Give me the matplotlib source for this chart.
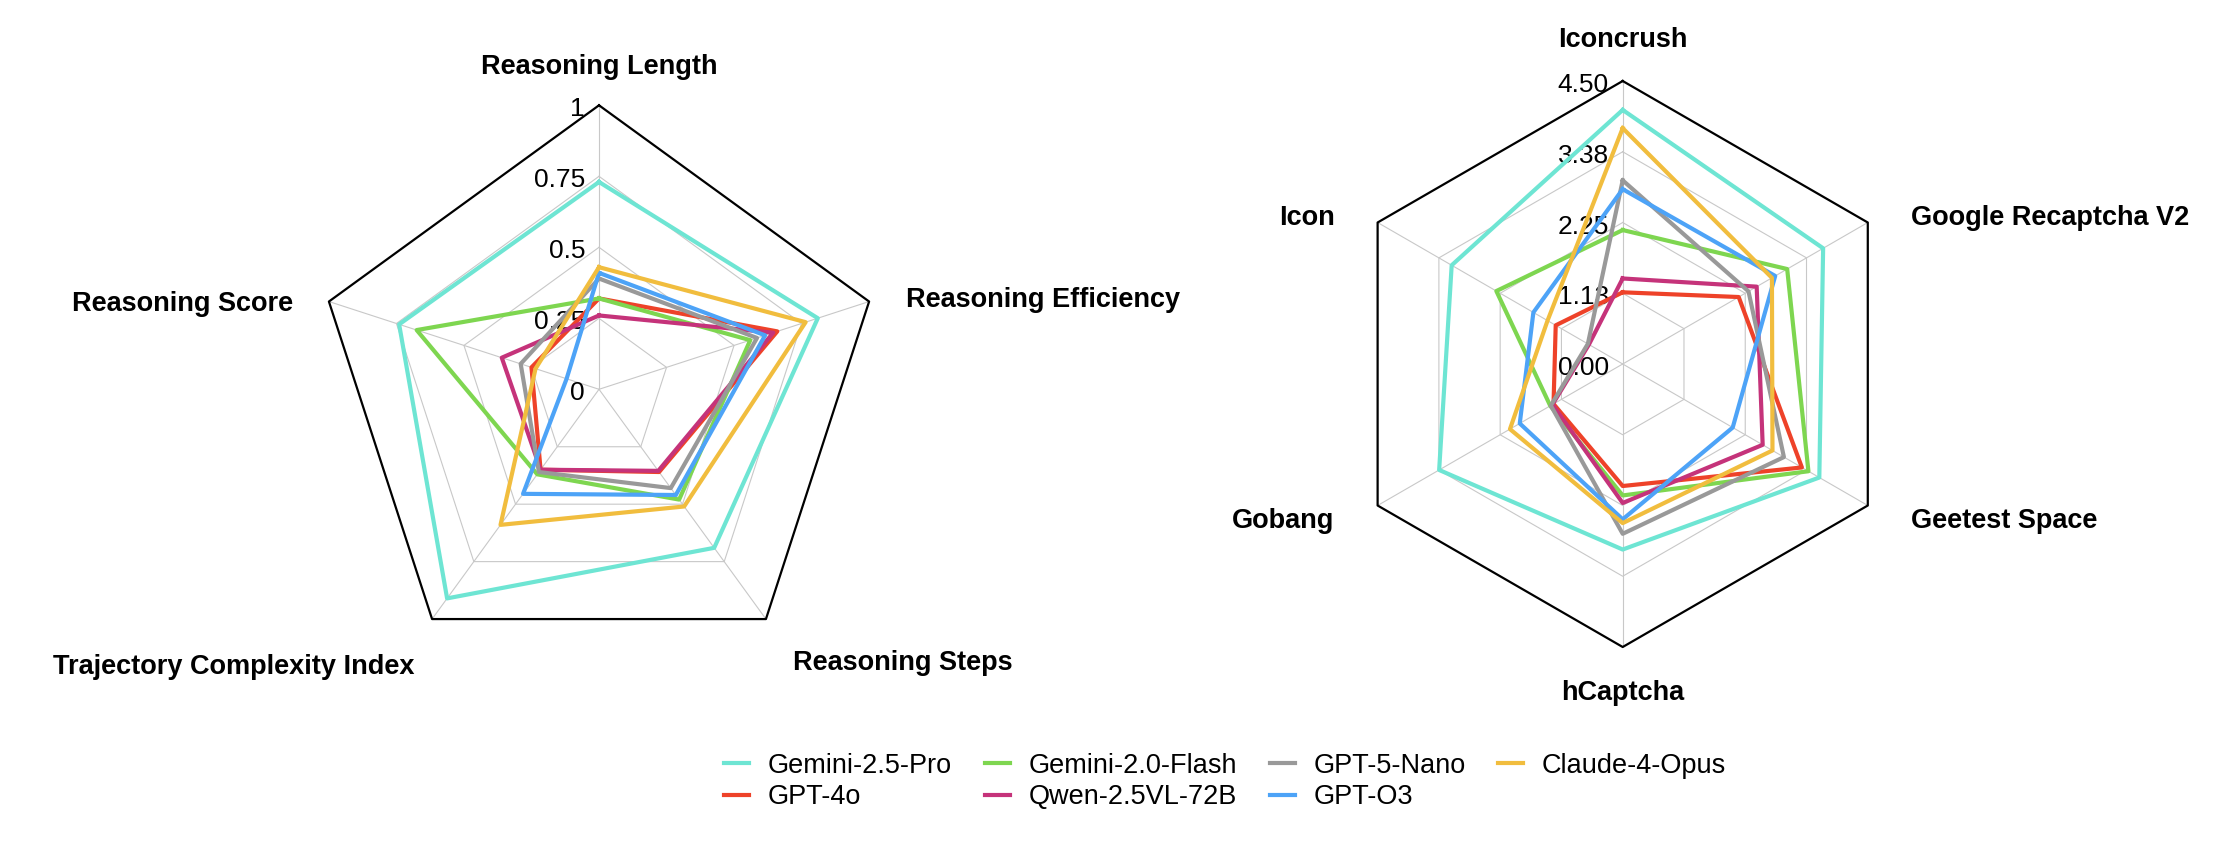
import numpy as np
import matplotlib
matplotlib.use('Agg')
import matplotlib.pyplot as plt

plt.rcParams['font.family'] = ['Liberation Sans', 'DejaVu Sans']

#modelos y colores
modelos = ['Gemini-2.5-Pro', 'GPT-4o', 'Gemini-2.0-Flash', 'Qwen-2.5VL-72B',
           'GPT-5-Nano', 'GPT-O3', 'Claude-4-Opus']
colores = ['#6EE5D3', '#EE4229', '#7ED650', '#C5337A',
           '#999999', '#4DA3F7', '#F1BD3E']

#radar izquierdo (metricas de razonamiento)
ejes_izq = ['Reasoning Length', 'Reasoning Efficiency', 'Reasoning Steps',
            'Trajectory Complexity Index', 'Reasoning Score']
gemini25_izq = [0.73, 0.81, 0.69, 0.91, 0.74]
gpt4o_izq = [0.32, 0.66, 0.36, 0.35, 0.25]
gemini20_izq = [0.32, 0.56, 0.48, 0.37, 0.675]
qwen_izq = [0.26, 0.645, 0.355, 0.35, 0.36]
gpt5nano_izq = [0.39, 0.585, 0.43, 0.36, 0.29]
gpto3_izq = [0.41, 0.615, 0.46, 0.455, 0.12]
claude_izq = [0.43, 0.765, 0.51, 0.59, 0.235]
ticks_izq = [0, 0.25, 0.5, 0.75, 1]
etiq_izq = ['0', '0.25', '0.5', '0.75', '1']

#radar derecho (captchas)
ejes_der = ['Iconcrush', 'Google Recaptcha V2', 'Geetest Space', 'hCaptcha',
            'Gobang', 'Icon']
gemini25_der = [4.04, 3.68, 3.61, 2.95, 3.37, 3.14]
gpt4o_der = [1.14, 2.13, 3.29, 1.94, 1.27, 1.23]
gemini20_der = [2.13, 3.02, 3.41, 2.09, 1.33, 2.32]
qwen_der = [1.36, 2.46, 2.57, 2.21, 1.29, 0.62]
gpt5nano_der = [2.92, 2.31, 2.96, 2.70, 1.32, 0.64]
gpto3_der = [2.78, 2.80, 2.02, 2.47, 1.89, 1.64]
claude_der = [3.75, 2.74, 2.75, 2.53, 2.07, 1.38]
ticks_der = [0, 1.125, 2.25, 3.375, 4.5]
etiq_der = ['0.00', '1.13', '2.25', '3.38', '4.50']

datos_izq = [gemini25_izq, gpt4o_izq, gemini20_izq, qwen_izq,
             gpt5nano_izq, gpto3_izq, claude_izq]
datos_der = [gemini25_der, gpt4o_der, gemini20_der, qwen_der,
             gpt5nano_der, gpto3_der, claude_der]

#desplazamientos de las etiquetas de los ejes (pixeles) y alineacion
pos_izq = [((0, 38), 'center', 'center'), ((37, 2), 'left', 'center'),
           ((27, -44), 'left', 'center'), ((-18, -48), 'right', 'center'),
           ((-36, -2), 'right', 'center')]
pos_der = [((0, 41), 'center', 'center'), ((43, 5), 'left', 'center'),
           ((43, -15), 'left', 'center'), ((0, -46), 'center', 'center'),
           ((-43, -15), 'right', 'center'), ((-43, 5), 'right', 'center')]


def radar(ax, ejes, datos, ticks, etiquetas, posiciones):
    n = len(ejes)
    ang = np.arange(n) * 2 * np.pi / n
    ang_c = np.append(ang, ang[0])
    rmax = ticks[-1]
    ax.set_theta_zero_location('N')
    ax.set_theta_direction(-1)
    ax.set_ylim(0, rmax)
    ax.set_xticks([])
    ax.set_yticks([])
    ax.grid(False)
    ax.spines['polar'].set_visible(False)
    #rejilla poligonal
    for t in ticks[1:-1]:
        ax.plot(ang_c, [t] * (n + 1), color='#c8c8c8', lw=0.8, zorder=1)
    for a in ang:
        ax.plot([a, a], [0, rmax], color='#c8c8c8', lw=0.8, zorder=1)
    ax.plot(ang_c, [rmax] * (n + 1), color='black', lw=1.6, zorder=1,
            clip_on=False)
    #etiquetas radiales (debajo de las series)
    for t, e in zip(ticks, etiquetas):
        ax.annotate(e, xy=(0, t), xytext=(-14, -4), textcoords='offset pixels',
                    ha='right', va='center', fontsize=19, zorder=1.5)
    #series
    for i in range(len(datos)):
        v = np.append(datos[i], datos[i][0])
        ax.plot(ang_c, v, color=colores[i], lw=3.0, label=modelos[i],
                zorder=2, clip_on=False)
    #etiquetas de los ejes
    for a, nombre, (off, ha, va) in zip(ang, ejes, posiciones):
        ax.annotate(nombre, xy=(a, rmax), xytext=off,
                    textcoords='offset pixels', ha=ha, va=va,
                    fontsize=19.5, fontweight='bold', annotation_clip=False)


fig = plt.figure(figsize=(22.4, 8.6), dpi=100)
ax1 = fig.add_axes([0.14063, 0.21709, 0.25357, 0.66047], projection='polar')
ax2 = fig.add_axes([0.59808, 0.24767, 0.25268, 0.65814], projection='polar')

radar(ax1, ejes_izq, datos_izq, ticks_izq, etiq_izq, pos_izq)
radar(ax2, ejes_der, datos_der, ticks_der, etiq_der, pos_der)

h, l = ax1.get_legend_handles_labels()
fig.legend(h, l, loc='center', bbox_to_anchor=(0.547, 0.0913), ncol=4,
           frameon=False, fontsize=19.5, handlelength=0.92,
           handletextpad=0.7, columnspacing=1.2, labelspacing=0.2)

plt.savefig('out.png', dpi=100)
